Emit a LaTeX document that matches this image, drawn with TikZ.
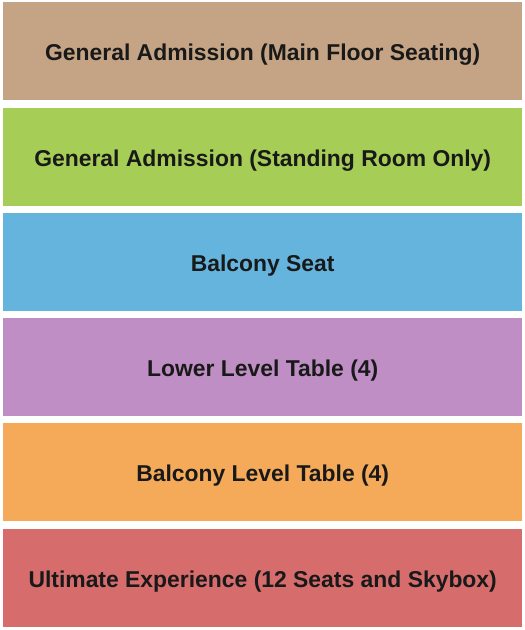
\documentclass[tikz,border=0pt]{standalone}
\usepackage{fontspec}
\setmainfont{Liberation Sans}
\definecolor{cA}{RGB}{196,164,132}
\definecolor{cB}{RGB}{166,206,86}
\definecolor{cC}{RGB}{100,180,222}
\definecolor{cD}{RGB}{190,142,196}
\definecolor{cE}{RGB}{245,170,90}
\definecolor{cF}{RGB}{214,108,108}
\begin{document}
\begin{tikzpicture}[x=1pt,y=-1pt,
  band/.style={minimum width=519pt,minimum height=98pt,inner sep=0pt,text height=19pt,text depth=0pt,anchor=north west,font=\fontsize{22.9}{24}\selectfont\bfseries,text=black!90}]
\useasboundingbox (0,0) rectangle (525,630);
\node[band,fill=cA] (a) at (3,2) {General Admission (Main Floor Seating)};
\node[band,fill=cB] (b) at (3,107.3) {General Admission (Standing Room Only)};
\node[band,fill=cC] (c) at (3,212.6) {Balcony Seat};
\node[band,fill=cD] (d) at (3,317.9) {Lower Level Table (4)};
\node[band,fill=cE] (e) at (3,423.2) {Balcony Level Table (4)};
\node[band,fill=cF] (f) at (3,528.5) {Ultimate Experience (12 Seats and Skybox)};
\end{tikzpicture}
\end{document}
